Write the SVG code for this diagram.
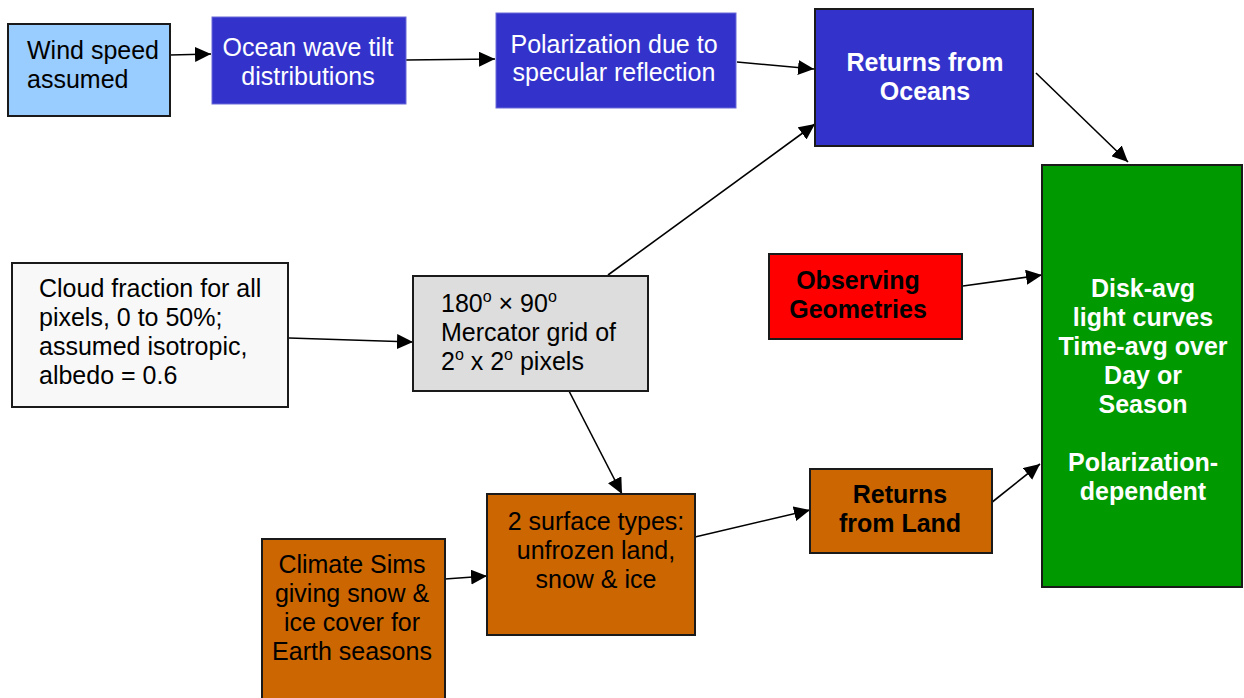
<svg xmlns="http://www.w3.org/2000/svg" width="1244" height="698" viewBox="0 0 1244 698">
  <style>
    text { font-family: "Liberation Sans", Arial, sans-serif; font-size: 25px; }
    .b { font-weight: bold; }
    .w { fill: #ffffff; }
    .k { fill: #000000; }
    .mid { text-anchor: middle; }
    .box { stroke: #1a1a1a; stroke-width: 2; }
    .soft { stroke: #6a6ad8; stroke-width: 1; }
    .conn line { stroke: #000; stroke-width: 1.6; marker-end: url(#arrow); }
  </style>
  <defs>
    <marker id="arrow" markerUnits="userSpaceOnUse" markerWidth="17" markerHeight="15" refX="16" refY="7.5" orient="auto">
      <path d="M0,0 L16,7.5 L0,15 z" fill="#000"/>
    </marker>
  </defs>

  <rect width="1244" height="698" fill="#ffffff"/>

  <!-- connectors -->
  <g id="connectors" class="conn">
    <line x1="170" y1="55" x2="211" y2="54"/>
    <line x1="406" y1="60" x2="495" y2="59"/>
    <line x1="737" y1="62" x2="814" y2="69"/>
    <line x1="608" y1="275" x2="815" y2="124"/>
    <line x1="1036" y1="73" x2="1128" y2="162"/>
    <line x1="289" y1="338" x2="413" y2="342"/>
    <line x1="963" y1="286" x2="1042" y2="275"/>
    <line x1="569" y1="391" x2="622" y2="494"/>
    <line x1="445" y1="579" x2="487" y2="576"/>
    <line x1="695" y1="537" x2="810" y2="510"/>
    <line x1="991" y1="503" x2="1040" y2="464"/>
  </g>

  <!-- wind speed -->
  <g id="wind">
    <rect x="8" y="24" width="162" height="92" fill="#99ccff" class="box"/>
    <text x="27" y="59" class="k">Wind speed</text>
    <text x="27" y="88" class="k">assumed</text>
  </g>

  <!-- ocean wave tilt -->
  <g id="tilt">
    <rect x="212" y="17" width="194" height="87" fill="#3333cc" class="soft"/>
    <text x="308" y="56" class="w mid">Ocean wave tilt</text>
    <text x="308" y="84.5" class="w mid">distributions</text>
  </g>

  <!-- polarization -->
  <g id="specular">
    <rect x="496" y="13" width="240" height="95" fill="#3333cc" class="soft"/>
    <text x="614" y="53" class="w mid">Polarization due to</text>
    <text x="614" y="81" class="w mid">specular reflection</text>
  </g>

  <!-- returns from oceans -->
  <g id="oceans">
    <rect x="815" y="9" width="218" height="137" fill="#3333cc" class="box"/>
    <text x="925" y="71" class="w b mid">Returns from</text>
    <text x="925" y="99.5" class="w b mid">Oceans</text>
  </g>

  <!-- cloud fraction -->
  <g id="clouds">
    <rect x="12" y="263" width="276" height="144" fill="#f8f8f8" class="box"/>
    <text x="39" y="297" class="k">Cloud fraction for all</text>
    <text x="39" y="326" class="k">pixels, 0 to 50%;</text>
    <text x="39" y="355" class="k">assumed isotropic,</text>
    <text x="39" y="384" class="k">albedo = 0.6</text>
  </g>

  <!-- mercator grid -->
  <g id="grid">
    <rect x="413" y="276" width="235" height="115" fill="#dddddd" class="box"/>
    <text x="441" y="312" class="k">180<tspan dy="-10" font-size="16">o</tspan><tspan dy="10"> × 90</tspan><tspan dy="-10" font-size="16">o</tspan></text>
    <text x="441" y="341" class="k">Mercator grid of</text>
    <text x="441" y="370" class="k">2<tspan dy="-10" font-size="16">o</tspan><tspan dy="10"> x 2</tspan><tspan dy="-10" font-size="16">o</tspan><tspan dy="10"> pixels</tspan></text>
  </g>

  <!-- observing geometries -->
  <g id="geometry">
    <rect x="769" y="254" width="193" height="85" fill="#ff0000" class="box"/>
    <text x="858" y="289" class="k b mid">Observing</text>
    <text x="858" y="318" class="k b mid">Geometries</text>
  </g>

  <!-- light curves -->
  <g id="curves">
    <rect x="1042" y="165" width="200" height="422" fill="#009900" class="box"/>
    <text x="1143" y="297" class="w b mid">Disk-avg</text>
    <text x="1143" y="326" class="w b mid">light curves</text>
    <text x="1143" y="355" class="w b mid">Time-avg over</text>
    <text x="1143" y="384" class="w b mid">Day or</text>
    <text x="1143" y="413" class="w b mid">Season</text>
    <text x="1143" y="471" class="w b mid">Polarization-</text>
    <text x="1143" y="500" class="w b mid">dependent</text>
  </g>

  <!-- surface types -->
  <g id="surface">
    <rect x="487" y="494" width="208" height="141" fill="#cc6600" class="box"/>
    <text x="596" y="530" class="k mid">2 surface types:</text>
    <text x="596" y="559" class="k mid">unfrozen land,</text>
    <text x="596" y="588" class="k mid">snow &amp; ice</text>
  </g>

  <!-- climate sims -->
  <g id="climate">
    <rect x="262" y="539" width="183" height="162" fill="#cc6600" class="box"/>
    <text x="352" y="573" class="k mid">Climate Sims</text>
    <text x="352" y="602" class="k mid">giving snow &amp;</text>
    <text x="352" y="631" class="k mid">ice cover for</text>
    <text x="352" y="660" class="k mid">Earth seasons</text>
  </g>

  <!-- returns from land -->
  <g id="land">
    <rect x="810" y="469" width="182" height="84" fill="#cc6600" class="box"/>
    <text x="900" y="503" class="k b mid">Returns</text>
    <text x="900" y="532" class="k b mid">from Land</text>
  </g>
</svg>
